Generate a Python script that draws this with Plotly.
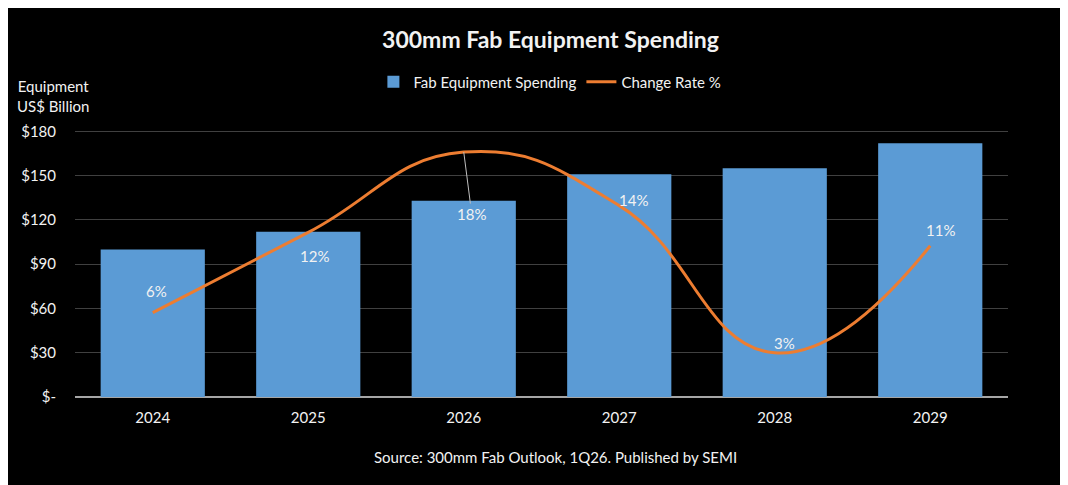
import plotly.graph_objects as go

# datos
years = ["2024", "2025", "2026", "2027", "2028", "2029"]
spending = [100, 112, 133, 151, 155, 172]
change_rate = [6, 12, 18, 14, 3, 11]
y_ticks = [0, 30, 60, 90, 120, 150, 180]
y_ticklabels = ["$-", "$30", "$60", "$90", "$120", "$150", "$180"]

# offsets for the % labels (px): (xshift, yshift, arrow)
label_pos = [(4, 22, False), (6, -24, False), (0, -62, True), (14, 6, False), (10, 10, False), (10, 16, False)]

FONT = "Lato"
TXT = "#f2f2f2"

fig = go.Figure()
fig.add_trace(go.Bar(x=years, y=spending, name="Fab Equipment Spending",
                     marker=dict(color="#5B9BD5", line=dict(width=0))))
fig.add_trace(go.Scatter(x=years, y=change_rate, name="Change Rate %", yaxis="y2",
                         mode="lines", line=dict(color="#ED7D31", width=3, shape="spline", smoothing=1.3)))

annots = []
for i, (v, (dx, dy, arrow)) in enumerate(zip(change_rate, label_pos)):
    if arrow:
        annots.append(dict(x=i, y=v, xref="x", yref="y2", text=f"{v}%", showarrow=True,
                           arrowhead=0, arrowcolor="#bfbfbf", arrowwidth=1, ax=8, ay=-dy,
                           font=dict(color=TXT, size=15, family=FONT)))
    else:
        annots.append(dict(x=i, y=v, xref="x", yref="y2", text=f"{v}%", showarrow=False,
                           xshift=dx, yshift=dy, font=dict(color=TXT, size=15, family=FONT)))

annots.append(dict(x=-0.0236, y=1.128, xref="paper", yref="paper", text="Equipment<br>US$ Billion",
                   showarrow=False, align="center", xanchor="center", yanchor="middle",
                   font=dict(color=TXT, size=15, family=FONT)))
annots.append(dict(x=0.5155, y=-0.226, xref="paper", yref="paper",
                   text="Source: 300mm Fab Outlook, 1Q26. Published by SEMI",
                   showarrow=False, xanchor="center", yanchor="middle",
                   font=dict(color=TXT, size=15, family=FONT)))

fig.update_layout(
    width=1068, height=485,
    paper_bgcolor="black", plot_bgcolor="black",
    margin=dict(l=67, r=68, t=122, b=96),
    title=dict(text="<b>300mm Fab Equipment Spending</b>", x=0.508, xanchor="center",
               y=0.934, yanchor="middle", font=dict(color=TXT, size=23, family=FONT)),
    font=dict(family=FONT, color=TXT, size=15),
    bargap=0.33,
    showlegend=True,
    legend=dict(orientation="h", x=0.509, xanchor="center", y=1.18, yanchor="middle",
                font=dict(color=TXT, size=15, family=FONT), bgcolor="rgba(0,0,0,0)"),
    xaxis=dict(type="category", range=[-0.5, 5.5], showgrid=False, tickfont=dict(color=TXT, size=15),
               ticks="", showline=False, ticklabelstandoff=10),
    yaxis=dict(range=[0, 181], tickvals=y_ticks, ticktext=y_ticklabels, gridcolor="#404040",
               gridwidth=1, zeroline=True, zerolinecolor="#a6a6a6", zerolinewidth=2,
               tickfont=dict(color=TXT, size=15), ticklabelstandoff=18),
    yaxis2=dict(overlaying="y", side="right", range=[-0.3, 19.65], visible=False),
    annotations=annots,
)

fig.write_html("out.html")
